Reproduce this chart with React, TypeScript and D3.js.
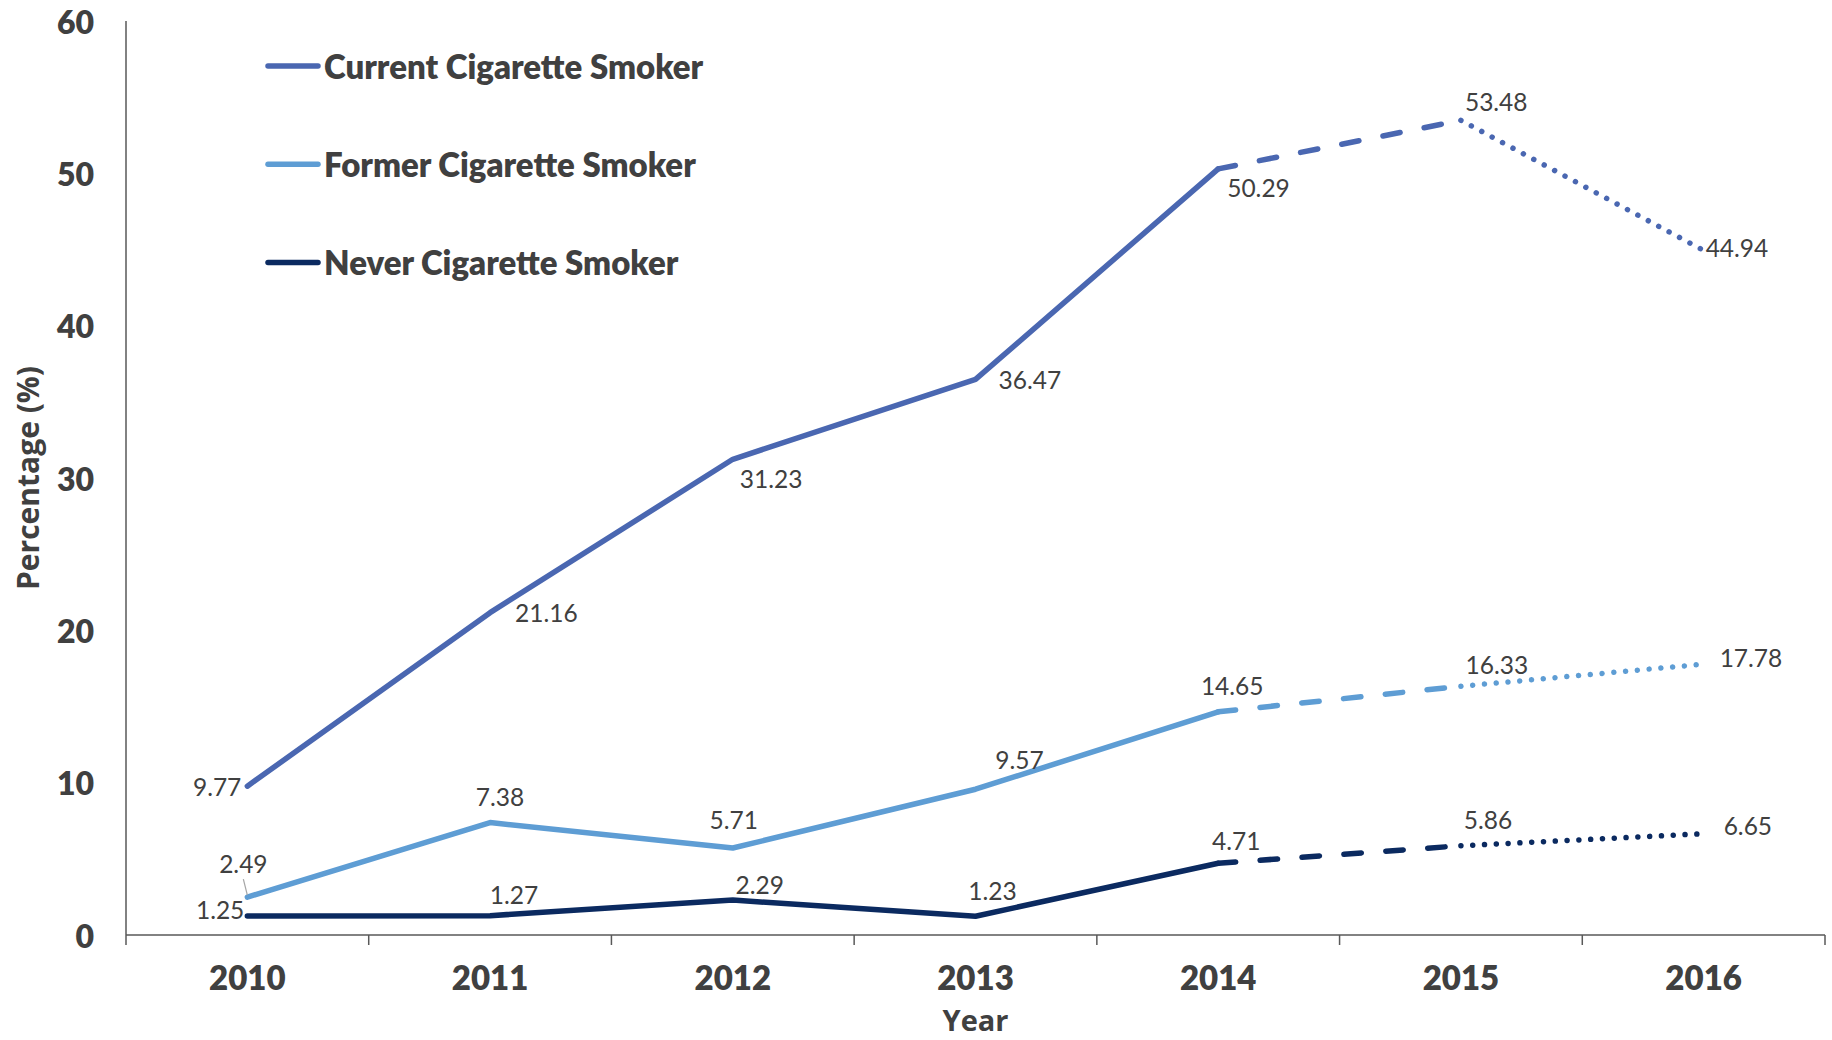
import React from "react";
import * as d3 from "d3";

const years = ["2010", "2011", "2012", "2013", "2014", "2015", "2016"];
const currentSmoker = [9.77, 21.16, 31.23, 36.47, 50.29, 53.48, 44.94];
const formerSmoker = [2.49, 7.38, 5.71, 9.57, 14.65, 16.33, 17.78];
const neverSmoker = [1.25, 1.27, 2.29, 1.23, 4.71, 5.86, 6.65];
const seriesNames = ["Current Cigarette Smoker", "Former Cigarette Smoker", "Never Cigarette Smoker"];
const yTicks = [0, 10, 20, 30, 40, 50, 60];

// styles / layout (not data)
const colors = ["#4a67b1", "#5e9dd4", "#0b2a60"];
const segments = [
  { from: 0, to: 4, dash: "" },
  { from: 4, to: 5, dash: "17.5 24.5" },
  { from: 5, to: 6, dash: "0.01 11.8" },
];
// label offsets: [dx, dy, anchor]
type Off = [number, number, string];
const labelOffsets: Off[][] = [
  [[-6, 0, "end"], [25, 0, "start"], [7, 19, "start"], [23, 0, "start"], [9, 19, "start"], [4, -19, "start"], [2, -3, "start"]],
  [[-4, -34, "middle"], [10, -26, "middle"], [1, -29, "middle"], [44, -30, "middle"], [14, -26, "middle"], [36, -22, "middle"], [16, -7, "start"]],
  [[-3, -6, "end"], [24, -21, "middle"], [27, -16, "middle"], [17, -26, "middle"], [18, -23, "middle"], [27, -26, "middle"], [20, -8, "start"]],
];

const W = 1832;
const H = 1040;
const left = 126;
const right = 1825;
const top = 21;
const bottom = 935;
const textColor = "#404040";
const axisColor = "#595959";
const FONT = "Lato, 'Open Sans', sans-serif";
const TITLE_FONT = "'Open Sans', Lato, sans-serif";

export default function App() {
  const allSeries = [currentSmoker, formerSmoker, neverSmoker];
  const x = d3.scaleBand().domain(years).range([left, right]).padding(0);
  const y = d3.scaleLinear().domain([0, 60]).range([bottom, top]);
  const cx = (i: number) => (x(years[i]) as number) + x.bandwidth() / 2;
  const line = d3
    .line<[number, number]>()
    .x((d) => d[0])
    .y((d) => d[1]);

  const boundaries = d3.range(years.length + 1).map((i) => left + i * x.bandwidth());

  return (
    <svg
      width={W}
      height={H}
      style={{ position: "absolute", left: 0, top: 0, display: "block", background: "#fff" }}
    >
      {/* axes */}
      <line x1={left} x2={left} y1={top} y2={bottom} stroke={axisColor} strokeWidth={1.5} />
      <line x1={left} x2={right} y1={bottom} y2={bottom} stroke={axisColor} strokeWidth={1.5} />
      {boundaries.map((bx, i) => (
        <line key={"t" + i} x1={bx} x2={bx} y1={bottom} y2={bottom + 10} stroke={axisColor} strokeWidth={1.5} />
      ))}
      {yTicks.map((t) => (
        <text
          key={"y" + t}
          x={94}
          y={y(t)}
          textAnchor="end"
          dominantBaseline="central"
          fontFamily={FONT}
          fontWeight={800}
          fontSize={32}
          fill={textColor}
        >
          {t}
        </text>
      ))}
      {years.map((yr, i) => (
        <text
          key={"x" + yr}
          x={cx(i)}
          y={977}
          textAnchor="middle"
          dominantBaseline="central"
          fontFamily={FONT}
          fontWeight={800}
          fontSize={33}
          fill={textColor}
        >
          {yr}
        </text>
      ))}
      <text
        x={(left + right) / 2}
        y={1019}
        textAnchor="middle"
        dominantBaseline="central"
        fontFamily={TITLE_FONT}
        fontWeight={700}
        fontSize={29}
        fill={textColor}
      >
        Year
      </text>
      <text
        transform={`translate(27,${(top + bottom) / 2}) rotate(-90)`}
        textAnchor="middle"
        dominantBaseline="central"
        fontFamily={TITLE_FONT}
        fontWeight={700}
        fontSize={30}
        fill={textColor}
      >
        Percentage (%)
      </text>

      {/* lines */}
      {allSeries.map((vals, s) =>
        segments.map((seg, k) => {
          const pts: [number, number][] = d3
            .range(seg.from, seg.to + 1)
            .map((i) => [cx(i), y(vals[i])]);
          return (
            <path
              key={`l${s}-${k}`}
              d={line(pts) as string}
              fill="none"
              stroke={colors[s]}
              strokeWidth={5.5}
              strokeLinecap="round"
              strokeLinejoin="round"
              strokeDasharray={seg.dash || undefined}
            />
          );
        })
      )}

      {/* leader line for 2.49 */}
      <line
        x1={cx(0) - 4}
        y1={y(formerSmoker[0]) - 18}
        x2={cx(0)}
        y2={y(formerSmoker[0]) - 2}
        stroke="#a6a6a6"
        strokeWidth={1.2}
      />

      {/* data labels */}
      {allSeries.map((vals, s) =>
        vals.map((v, i) => {
          const [dx, dy, anchor] = labelOffsets[s][i];
          return (
            <text
              key={`d${s}-${i}`}
              x={cx(i) + dx}
              y={y(v) + dy}
              textAnchor={anchor as any}
              dominantBaseline="central"
              fontFamily={FONT}
              fontSize={24.5}
              fill={textColor}
            >
              {v.toFixed(2)}
            </text>
          );
        })
      )}

      {/* legend */}
      {seriesNames.map((name, s) => {
        const ly = 66 + s * 98.2;
        return (
          <g key={"lg" + s}>
            <line x1={268} x2={318} y1={ly} y2={ly} stroke={colors[s]} strokeWidth={5.5} strokeLinecap="round" />
            <text
              transform={`translate(324,${ly})`}
              dominantBaseline="central"
              fontFamily={FONT}
              fontWeight={800}
              fontSize={33}
              fill={textColor}
            >
              {name}
            </text>
          </g>
        );
      })}
    </svg>
  );
}
